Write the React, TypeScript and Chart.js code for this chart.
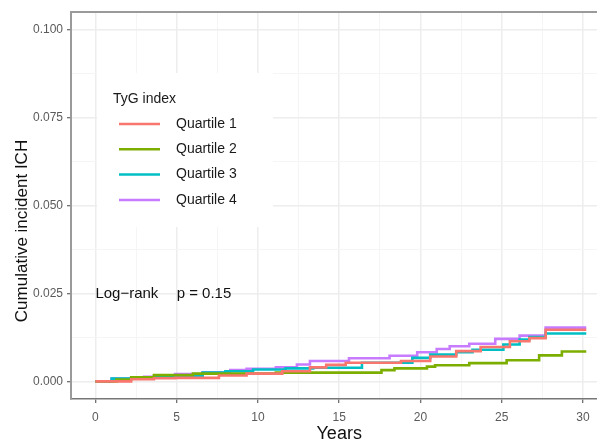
import React, { useEffect, useRef } from "react";
import { Chart, registerables } from "chart.js";

Chart.register(...registerables);

// ---- data ----
const seriesNames = ["Quartile 1", "Quartile 2", "Quartile 3", "Quartile 4"];
const seriesColors = ["#F8766D", "#7CAE00", "#00BFC4", "#C77CFF"];

const q1Years = [0, 2.2, 3.6, 4.9, 7.6, 9.3, 11.5, 13.2, 14.2, 15.4, 18.8, 20.6, 22.2, 23.7, 25.5, 26.7, 27.7, 30.2];
const q1Cum = [0, 0.0006, 0.0009, 0.001, 0.0017, 0.0022, 0.0029, 0.004, 0.0047, 0.0053, 0.0058, 0.0071, 0.0086, 0.0098, 0.0114, 0.0123, 0.0147, 0.0147];

const q2Years = [0, 1.3, 2.2, 3.6, 6.0, 11.1, 17.6, 18.4, 20.4, 20.9, 23.0, 25.3, 27.3, 28.7, 30.2];
const q2Cum = [0, 0.0005, 0.0012, 0.0018, 0.0022, 0.0025, 0.0032, 0.0037, 0.0042, 0.0046, 0.0052, 0.006, 0.0074, 0.0085, 0.0085];

const q3Years = [0, 1.0, 3.0, 4.9, 6.6, 8.0, 9.7, 11.7, 13.4, 16.4, 19.5, 20.6, 22.2, 23.2, 25.1, 26.1, 26.7, 27.7, 30.2];
const q3Cum = [0, 0.0008, 0.0012, 0.0015, 0.0025, 0.0029, 0.0034, 0.0037, 0.0039, 0.0053, 0.0067, 0.0076, 0.0083, 0.009, 0.0105, 0.0119, 0.0126, 0.0136, 0.0136];

const q4Years = [0, 1.0, 3.0, 4.9, 6.6, 8.3, 9.3, 11.1, 12.4, 13.2, 15.6, 18.1, 19.8, 21.0, 21.8, 23.0, 24.6, 26.1, 27.7, 30.2];
const q4Cum = [0, 0.0008, 0.0013, 0.0021, 0.0026, 0.0032, 0.0036, 0.004, 0.0048, 0.0058, 0.0066, 0.0073, 0.0083, 0.0092, 0.01, 0.0107, 0.0121, 0.013, 0.0153, 0.0153];

const seriesYears = [q1Years, q2Years, q3Years, q4Years];
const seriesCum = [q1Cum, q2Cum, q3Cum, q4Cum];

const xTickValues = [0, 2.5, 5, 7.5, 10, 12.5, 15, 17.5, 20, 22.5, 25, 27.5, 30];
const yTickValues = [0, 0.0125, 0.025, 0.0375, 0.05, 0.0625, 0.075, 0.0875, 0.1];

const legendTitle = "TyG index";
const xTitle = "Years";
const yTitle = "Cumulative incident ICH";
const annotationTexts = ["Log\u2212rank", "p = 0.15"];
const annotationXs = [0, 5];
const annotationY = 0.025;

const FONT = "'Liberation Sans', Arial, sans-serif";
const W = 640;
const H = 442;

const decorPlugin = {
  id: "decor",
  beforeDatasetsDraw(chart: any) {
    const { ctx, chartArea } = chart;
    ctx.save();
    // top panel border
    ctx.strokeStyle = "#9a9a9a";
    ctx.lineWidth = 2;
    ctx.beginPath();
    ctx.moveTo(chartArea.left - 1, chartArea.top);
    ctx.lineTo(chartArea.right, chartArea.top);
    ctx.stroke();

    // legend box
    const L = chartArea.left;
    const T = chartArea.top;
    ctx.fillStyle = "#ffffff";
    ctx.fillRect(L + 26, T + 61, 176, 154);
    ctx.fillStyle = "#1a1a1a";
    ctx.font = `14px ${FONT}`;
    ctx.textAlign = "left";
    ctx.textBaseline = "middle";
    ctx.fillText(legendTitle, L + 42, T + 87);
    seriesNames.forEach((name, i) => {
      const y = T + 112 + i * 25.3;
      ctx.strokeStyle = seriesColors[i];
      ctx.lineWidth = 2.5;
      ctx.beginPath();
      ctx.moveTo(L + 48, y);
      ctx.lineTo(L + 89, y);
      ctx.stroke();
      ctx.fillStyle = "#1a1a1a";
      ctx.fillText(name, L + 105, y);
    });

    // log-rank annotation
    const xs = chart.scales.x;
    const ys = chart.scales.y;
    ctx.fillStyle = "#111111";
    ctx.font = `15px ${FONT}`;
    annotationTexts.forEach((t, i) => {
      ctx.fillText(t, xs.getPixelForValue(annotationXs[i]), ys.getPixelForValue(annotationY));
    });

    // y axis title
    ctx.save();
    ctx.translate(22, 231);
    ctx.rotate(-Math.PI / 2);
    ctx.textAlign = "center";
    ctx.font = `17px ${FONT}`;
    ctx.fillStyle = "#111111";
    ctx.fillText(yTitle, 0, 0);
    ctx.restore();

    ctx.restore();
  },
};

export default function App() {
  const ref = useRef<HTMLCanvasElement>(null);
  useEffect(() => {
    if (!ref.current) return;
    const datasets = seriesNames.map((name, i) => ({
      label: name,
      data: seriesYears[i].map((x, j) => ({ x, y: seriesCum[i][j] })),
      borderColor: seriesColors[i],
      backgroundColor: seriesColors[i],
      borderWidth: 2.6,
      pointRadius: 0,
      stepped: "before" as const,
      fill: false,
    }));
    const isMajorX = (v: number) => Math.abs(v % 5) < 1e-9;
    const isMajorY = (v: number) => Math.abs(Math.round(v / 0.025) * 0.025 - v) < 1e-9;
    const chart = new Chart(ref.current, {
      type: "line",
      data: { datasets },
      plugins: [decorPlugin],
      options: {
        animation: false,
        responsive: false,
        layout: { padding: { top: 12, left: 0, right: W - 607.4, bottom: 0 } },
        plugins: { legend: { display: false }, tooltip: { enabled: false } },
        scales: {
          x: {
            type: "linear",
            min: -1.5,
            max: 31.5,
            afterBuildTicks: (s: any) => {
              s.ticks = xTickValues.map((v) => ({ value: v }));
            },
            afterFit: (s: any) => {
              s.height = 43;
            },
            border: { color: "#777777", width: 1.5 },
            grid: {
              color: (c: any) => (c.tick && isMajorX(c.tick.value) ? "#EDEDED" : "#F5F5F5"),
              lineWidth: (c: any) => (c.tick && isMajorX(c.tick.value) ? 1.5 : 1),
              tickColor: (c: any) => (c.tick && isMajorX(c.tick.value) ? "#444444" : "rgba(0,0,0,0)"),
              tickLength: 4,
              tickWidth: 1,
            },
            ticks: {
              autoSkip: false,
              maxRotation: 0,
              padding: 7,
              color: "#5a5a5a",
              font: { family: FONT, size: 12 },
              callback: (v: any) => (isMajorX(Number(v)) ? String(v) : ""),
            },
            title: {
              display: true,
              text: xTitle,
              color: "#111111",
              font: { family: FONT, size: 18 },
              padding: { top: 0, bottom: -3 },
            },
          },
          y: {
            type: "linear",
            min: -0.005,
            max: 0.105,
            afterBuildTicks: (s: any) => {
              s.ticks = yTickValues.map((v) => ({ value: v }));
            },
            afterFit: (s: any) => {
              s.width = 71;
            },
            border: { color: "#9a9a9a", width: 2 },
            grid: {
              color: (c: any) => (c.tick && isMajorY(c.tick.value) ? "#EDEDED" : "#F5F5F5"),
              lineWidth: (c: any) => (c.tick && isMajorY(c.tick.value) ? 1.5 : 1),
              tickColor: (c: any) => (c.tick && isMajorY(c.tick.value) ? "#444444" : "rgba(0,0,0,0)"),
              tickLength: 4,
              tickWidth: 1,
            },
            ticks: {
              autoSkip: false,
              padding: 4,
              color: "#5a5a5a",
              font: { family: FONT, size: 12 },
              callback: (v: any) => (isMajorY(Number(v)) ? Number(v).toFixed(3) : ""),
            },
          },
        },
      },
    });
    return () => chart.destroy();
  }, []);

  return (
    <div style={{ position: "fixed", left: 0, top: 0, width: 597, height: H, overflow: "hidden", background: "#fff" }}>
      <canvas ref={ref} width={W} height={H} style={{ width: W, height: H, display: "block" }} />
    </div>
  );
}
